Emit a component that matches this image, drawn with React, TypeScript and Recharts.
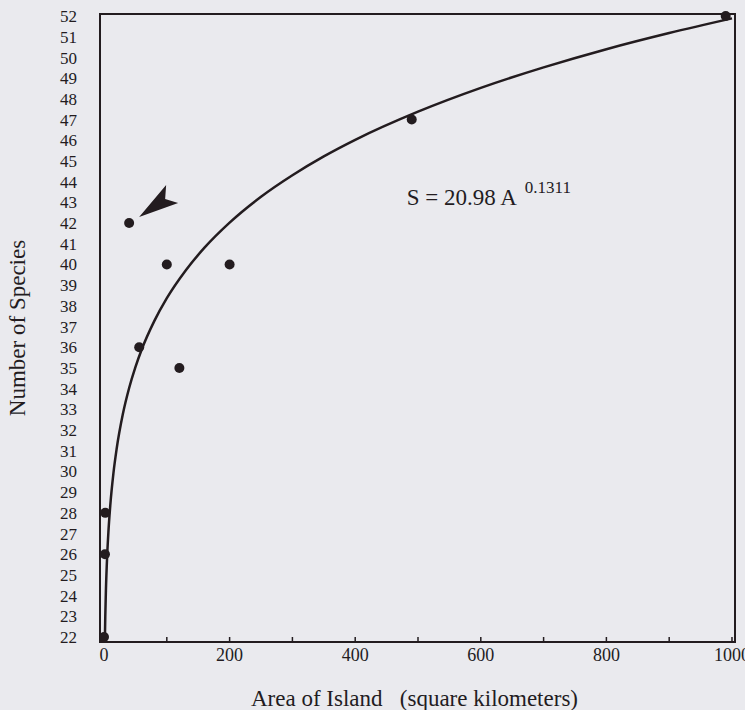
import React from 'react';
import { ComposedChart, Scatter, XAxis, YAxis, ReferenceArea } from 'recharts';

// tick values
const areaTicks = [0, 100, 200, 300, 400, 500, 600, 700, 800, 900, 1000];
const speciesTicks = [22, 23, 24, 25, 26, 27, 28, 29, 30, 31, 32, 33, 34, 35, 36, 37, 38, 39, 40, 41, 42, 43, 44, 45, 46, 47, 48, 49, 50, 51, 52];

// observed islands
const islandArea = [0, 1.5, 2, 40, 56, 100, 120, 200, 490, 990];
const islandSpecies = [22, 26, 28, 42, 36, 40, 35, 40, 47, 52];

// fitted curve
const curveArea = [1.44, 2, 3, 5, 7, 10, 15, 20, 30, 40, 50, 60, 80, 100, 130, 160, 200, 250, 300, 350, 400, 500, 600, 700, 800, 900, 1000];
const curveSpecies = [22.0, 22.98, 24.23, 25.91, 27.08, 28.37, 29.92, 31.07, 32.77, 34.03, 35.04, 35.89, 37.26, 38.37, 39.71, 40.81, 42.02, 43.27, 44.31, 45.22, 46.02, 47.38, 48.53, 49.52, 50.4, 51.18, 51.89];

// annotations
const arrowAt = [{ a: 40, s: 42 }];
const equationAt = [{ a: 482, s: 42.86 }];

const INK = '#231c1f';
const FONT = '"Liberation Serif", "Times New Roman", serif';
const X_DOMAIN: [number, number] = [-6.4, 1004.8];
const Y_DOMAIN: [number, number] = [21.76, 52.1];

const islands = islandArea.map((a, i) => ({ a, s: islandSpecies[i] }));
const curve = curveArea.map((a, i) => ({ a, s: curveSpecies[i] }));

const AreaTick = (props: any) => {
  const { x, y, payload } = props;
  const v = payload.value;
  return (
    <g>
      {v !== 0 && <line x1={x} x2={x} y1={y - 5} y2={y - 10} stroke={INK} strokeWidth={1.5} />}
      {v % 200 === 0 && (
        <text x={x} y={y} dy="0.75em" textAnchor="middle" fill={INK} fontSize={18} fontFamily={FONT}>
          {v}
        </text>
      )}
    </g>
  );
};

const Dot = (props: any) => <circle cx={props.cx} cy={props.cy} r={5} fill={INK} />;

const Arrow = (props: any) => {
  const { cx, cy } = props;
  const pts = [
    [cx + 10, cy - 6],
    [cx + 37, cy - 38],
    [cx + 36, cy - 24],
    [cx + 49, cy - 20],
  ].map((p) => p.join(',')).join(' ');
  return <polygon points={pts} fill={INK} />;
};

const Equation = (props: any) => (
  <text x={props.cx} y={props.cy} fill={INK} fontSize={23} fontFamily={FONT}>
    S = 20.98 A
    <tspan dx={8} dy={-12} fontSize={17}>0.1311</tspan>
  </text>
);

const Nothing = () => <g />;

export default function App() {
  return (
    <div style={{ position: 'absolute', left: 0, top: 0, width: 745, height: 710, background: '#eaeaee' }}>
      <ComposedChart width={745} height={710} margin={{ top: 14, right: 10, bottom: 0, left: 0 }}>
        <XAxis
          type="number"
          dataKey="a"
          domain={X_DOMAIN}
          ticks={areaTicks}
          interval={0}
          height={68}
          tickSize={0}
          tickMargin={5}
          tickLine={false}
          axisLine={{ stroke: INK, strokeWidth: 2 }}
          tick={<AreaTick />}
          label={{
            value: 'Area of Island\u00A0\u00A0\u00A0(square kilometers)',
            position: 'insideBottom',
            offset: 4,
            dx: -3,
            fill: INK,
            fontSize: 23,
            fontFamily: FONT,
          }}
        />
        <YAxis
          type="number"
          dataKey="s"
          domain={Y_DOMAIN}
          ticks={speciesTicks}
          interval={0}
          width={100}
          tickSize={0}
          tickMargin={23}
          tickLine={false}
          axisLine={{ stroke: INK, strokeWidth: 2 }}
          tick={{ fill: INK, fontSize: 17, fontFamily: FONT }}
          label={{
            value: 'Number of Species',
            angle: -90,
            position: 'insideLeft',
            offset: 17,
            style: { textAnchor: 'middle' },
            fill: INK,
            fontSize: 23,
            fontFamily: FONT,
          }}
        />
        <ReferenceArea
          x1={X_DOMAIN[0]}
          x2={X_DOMAIN[1]}
          y1={Y_DOMAIN[0]}
          y2={Y_DOMAIN[1]}
          fill="none"
          stroke={INK}
          strokeWidth={2}
          ifOverflow="visible"
        />
        <Scatter
          data={curve}
          line={{ stroke: INK, strokeWidth: 2.5 }}
          lineJointType="monotoneX"
          shape={<Nothing />}
          isAnimationActive={false}
        />
        <Scatter data={islands} shape={<Dot />} isAnimationActive={false} />
        <Scatter data={arrowAt} shape={<Arrow />} isAnimationActive={false} />
        <Scatter data={equationAt} shape={<Equation />} isAnimationActive={false} />
      </ComposedChart>
    </div>
  );
}
